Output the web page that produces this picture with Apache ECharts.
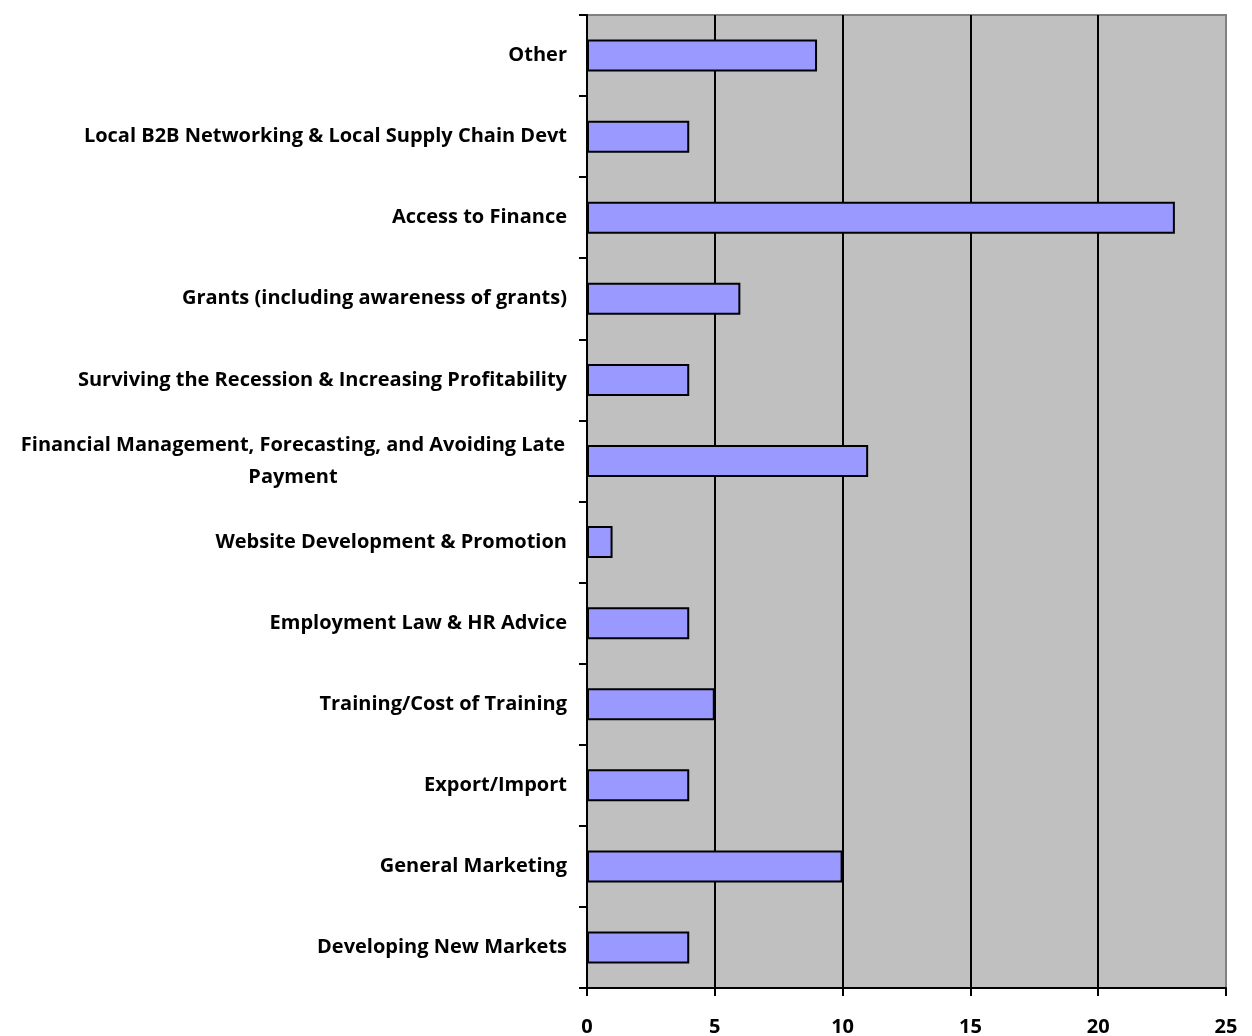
<!DOCTYPE html>
<html>
<head>
<meta charset="utf-8">
<script src="https://cdn.jsdelivr.net/npm/echarts@6/dist/echarts.min.js"></script>
<style>
  html, body { margin: 0; padding: 0; background: #ffffff; }
  #chart { width: 1252px; height: 1036px; }
</style>
</head>
<body>
<div id="chart"></div>
<script>
// Business support topics, listed bottom to top
const categories = [
  'Developing New Markets',
  'General Marketing',
  'Export/Import',
  'Training/Cost of Training',
  'Employment Law & HR Advice',
  'Website Development & Promotion',
  'Financial Management, Forecasting, and Avoiding Late\nPayment',
  'Surviving the Recession & Increasing Profitability',
  'Grants (including awareness of grants)',
  'Access to Finance',
  'Local B2B Networking & Local Supply Chain Devt',
  'Other'
];
const counts = [4, 10, 4, 5, 4, 1, 11, 4, 6, 23, 4, 9];
const xTicks = { min: 0, max: 25, interval: 5 };

const FONT = '"Open Sans"';
const chart = echarts.init(document.getElementById('chart'), null, { renderer: 'canvas' });

chart.setOption({
  animation: false,
  backgroundColor: '#ffffff',
  grid: {
    left: 587, right: 26, top: 15, bottom: 48,
    outerBoundsMode: 'none',
    show: true,
    backgroundColor: '#C0C0C0',
    borderColor: '#808080',
    borderWidth: 2
  },
  xAxis: {
    type: 'value',
    min: xTicks.min, max: xTicks.max, interval: xTicks.interval,
    axisLine: { show: true, lineStyle: { color: '#000', width: 2 } },
    axisTick: { show: true, length: 8, lineStyle: { color: '#000', width: 2 } },
    axisLabel: {
      margin: 29, color: '#000', fontFamily: FONT, fontWeight: 'bold', fontSize: 20
    },
    splitLine: {
      show: true, showMinLine: false, showMaxLine: false,
      lineStyle: { color: '#000', width: 2 }
    }
  },
  yAxis: {
    type: 'category',
    data: categories,
    axisLine: { show: true, lineStyle: { color: '#000', width: 2 } },
    axisTick: { show: true, length: 8, lineStyle: { color: '#000', width: 2 } },
    axisLabel: {
      margin: 20, color: '#000', fontFamily: FONT, fontWeight: 'bold', fontSize: 20,
      formatter: function (v) {
        if (v.indexOf('\n') < 0) return v;
        return v.split('\n').map(function (s) { return '{c|' + s + '}'; }).join('\n');
      },
      rich: {
        c: {
          width: 548, align: 'center', lineHeight: 32,
          fontFamily: FONT, fontWeight: 'bold', fontSize: 20, color: '#000'
        }
      }
    },
    splitLine: { show: false }
  },
  series: [{
    type: 'bar',
    data: counts,
    barWidth: 32,
    itemStyle: { color: '#9999FF', borderColor: '#000', borderWidth: 2 }
  }]
});
</script>
</body>
</html>
